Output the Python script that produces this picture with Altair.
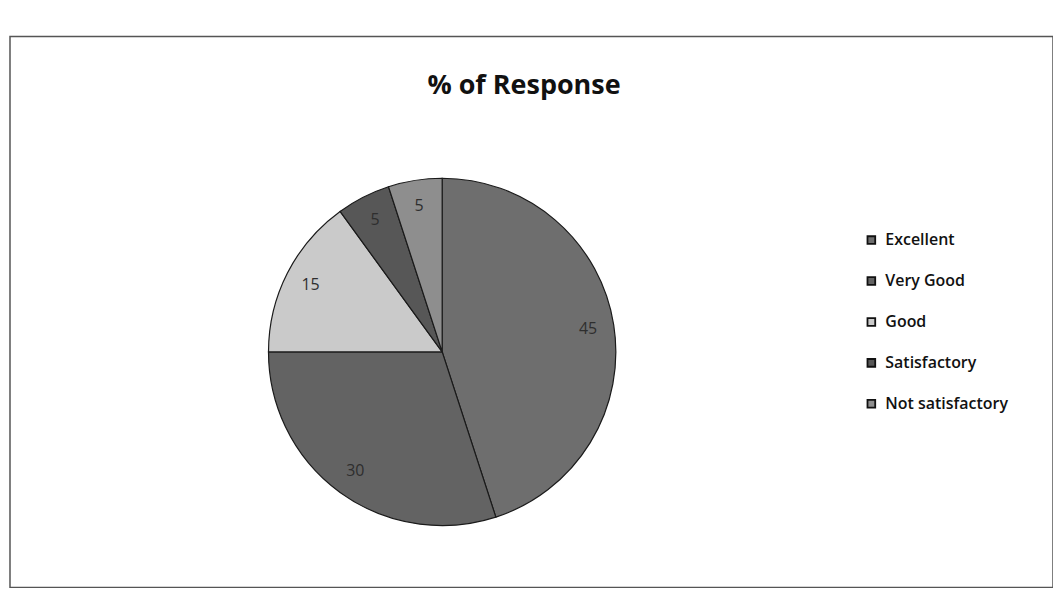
import altair as alt
import pandas as pd

categories = ["Excellent", "Very Good", "Good", "Satisfactory", "Not satisfactory"]
values = [45, 30, 15, 5, 5]
colors = ["#6e6e6e", "#636363", "#cacaca", "#575757", "#8e8e8e"]
title_text = "% of Response"

df = pd.DataFrame({"category": categories, "value": values, "order": list(range(len(categories)))})

FONT = "Open Sans"
CX, CY, R = 433, 316, 174

color_scale = alt.Scale(domain=categories, range=colors)

base = alt.Chart(df).encode(
    theta=alt.Theta("value:Q", stack=True),
    order=alt.Order("order:Q"),
)

pie = base.mark_arc(stroke="#1a1a1a", strokeWidth=1.2, outerRadius=R).encode(
    color=alt.Color(
        "category:N",
        scale=color_scale,
        sort=categories,
        legend=alt.Legend(
            title=None,
            orient="none",
            legendX=855,
            legendY=196,
            symbolType="square",
            symbolSize=60,
            symbolStrokeColor="#111",
            symbolStrokeWidth=1.8,
            labelFont=FONT,
            labelFontSize=16,
            labelFontWeight=600,
            labelColor="#111",
            rowPadding=25,
            labelOffset=6,
        ),
    ),
    x=alt.value(CX),
    y=alt.value(CY),
)

labels = base.mark_text(radius=148, font=FONT, fontSize=16, color="#2e2e2e").encode(
    text=alt.Text("value:Q"),
    x=alt.value(CX),
    y=alt.value(CY),
)

title = alt.Chart(pd.DataFrame({"t": [title_text]})).mark_text(
    font=FONT, fontSize=27, fontWeight="bold", color="#111"
).encode(text="t:N", x=alt.value(515), y=alt.value(50))

chart = alt.layer(pie, labels, title).properties(
    width=1045,
    height=552,
    padding={"left": 2, "top": 28, "right": 0, "bottom": 0},
).configure_view(stroke="#555", strokeWidth=1.5)

chart.save("out.html", embed_options={"renderer": "svg", "actions": False})
